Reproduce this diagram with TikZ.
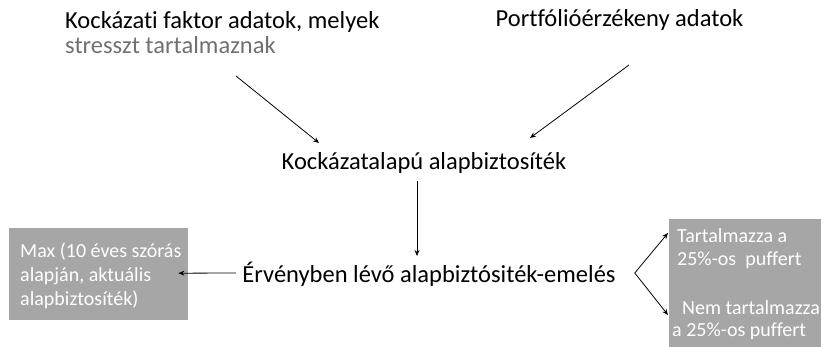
\documentclass[tikz,border=0pt]{standalone}
\usepackage{fontspec}
\setmainfont{Carlito}[Ligatures=NoCommon]
\usepackage{xcolor}
\usepackage{tikz}
\usetikzlibrary{arrows.meta,calc}
\definecolor{boxgrey}{HTML}{A6A6A6}
\definecolor{subgrey}{HTML}{707070}

\begin{document}
\begin{tikzpicture}[x=1pt, y=-1pt,
  txt/.style={inner sep=0pt, font=\fontsize{24.5}{25}\selectfont, align=left},
  gbox/.style={fill=boxgrey, inner sep=0pt, anchor=north west},
  wtxt/.style={inner sep=0pt, text=white, anchor=west, align=left},
  arr/.style={-{Stealth[length=6pt, width=5pt]}, line width=0.8pt}]
\clip (0,0) rectangle (821,347);
\node[txt, anchor=west] (kf) at (65,32.5) {Kockázati faktor adatok, melyek\\ \textcolor{subgrey}{stresszt tartalmaznak}};
\node[txt] (pf) at (619.5,20) {Portfólióérzékeny adatok};
\node[txt] (base) at (424,163) {Kockázatalapú alapbiztosíték};
\node[txt] (raise) at (429,274) {Érvényben lévő alapbiztósiték-emelés};
\node[gbox, minimum width=179pt, minimum height=92pt] (maxbox) at (9,228) {};
\node[wtxt, font=\fontsize{20}{24}\selectfont] (maxtxt) at (20,276)
  {Max (10 éves szórás\\ alapján, aktuális\\ alapbiztosíték)};
\node[gbox, minimum width=170pt, minimum height=140pt] (pufbox) at (669,219) {};
\node[wtxt, font=\fontsize{20}{23}\selectfont] (incl) at (677,248.5) {Tartalmazza a\\ 25\%-os~ puffert};
\node[wtxt, font=\fontsize{20}{22}\selectfont] (excl) at (672,320.5) {\hspace{10pt}Nem tartalmazza\\ a 25\%-os puffert};
% connectors
\draw[arr] ($(kf.west)+(171,43.5)$) -- ($(base)+(-105,-20)$);
\draw[arr] ($(pf)+(9.5,45)$) -- ($(base)+(106,-25)$);
\draw[arr] ($(base)+(-7,18)$) -- ($(raise)+(-12,-18)$);
\draw[arr] ($(raise.west)+(-6,-1)$) -- ($(maxbox.east)+(-10,-1)$);
\coordinate (fork) at ($(raise.east)+(19,-1)$);
\draw[arr] (fork) -- ($(pufbox.north west)+(-1,14)$);
\draw[arr] (fork) -- ($(pufbox.north west)+(-1,96)$);
\end{tikzpicture}
\end{document}
